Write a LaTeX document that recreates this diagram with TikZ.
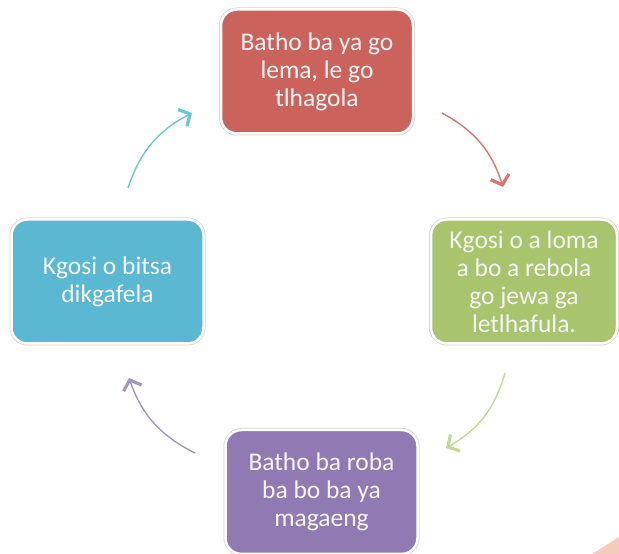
\documentclass[tikz,border=0pt]{standalone}
\usepackage{fontspec}
\setmainfont{Carlito}
\usetikzlibrary{arrows.meta}
\definecolor{boxred}{HTML}{CB635C}
\definecolor{boxgreen}{HTML}{A8C56E}
\definecolor{boxblue}{HTML}{5AB8D2}
\definecolor{boxpurple}{HTML}{917AB3}
\definecolor{arrred}{HTML}{D7756E}
\definecolor{arrgreen}{HTML}{C3D890}
\definecolor{arrblue}{HTML}{6CC4DA}
\definecolor{arrpurple}{HTML}{A694C6}
\definecolor{peach}{HTML}{F3CDBB}
\tikzset{
  cyclebox/.style={rectangle, rounded corners=16pt, draw=white, line width=2.5pt,
    preaction={draw=black!18, line width=4pt},
    minimum width=192pt, minimum height=124pt, text=white!96!black, align=center,
    font=\fontsize{25.5}{28}\selectfont, inner sep=0pt},
  cyclearrow/.style={line width=1.4pt, bend left=22,
    -{Straight Barb[length=8.5pt, width=19pt, line width=3.2pt]}}
}
\begin{document}
\begin{tikzpicture}[x=1pt,y=1pt]
\useasboundingbox (0,0) rectangle (619,554);
\fill[peach] (592,0) -- (619,17) -- (619,0) -- cycle;
\node[cyclebox, fill=boxred] (red) at (317,482.5) {Batho ba ya go\\lema, le go\\tlhagola};
\node[cyclebox, fill=boxgreen, minimum width=186pt] (green) at (524,272.5) {Kgosi o a loma\\a bo a rebola\\go jewa ga\\letlhafula.};
\node[cyclebox, fill=boxpurple] (purple) at (321.5,62) {Batho ba roba\\ba bo ba ya\\magaeng};
\node[cyclebox, fill=boxblue] (blue) at (107.5,272.5) {Kgosi o bitsa\\dikgafela};
\coordinate (r1) at (442,441);
\coordinate (r2) at (503,367);
\coordinate (g1) at (505,181);
\coordinate (g2) at (446,106);
\coordinate (p1) at (195,101);
\coordinate (p2) at (129,176);
\coordinate (b1) at (128,366);
\coordinate (b2) at (192,441);
\draw[cyclearrow, arrred] (r1) to (r2);
\draw[cyclearrow, arrgreen] (g1) to (g2);
\draw[cyclearrow, arrpurple] (p1) to (p2);
\draw[cyclearrow, arrblue] (b1) to (b2);
\end{tikzpicture}
\end{document}
